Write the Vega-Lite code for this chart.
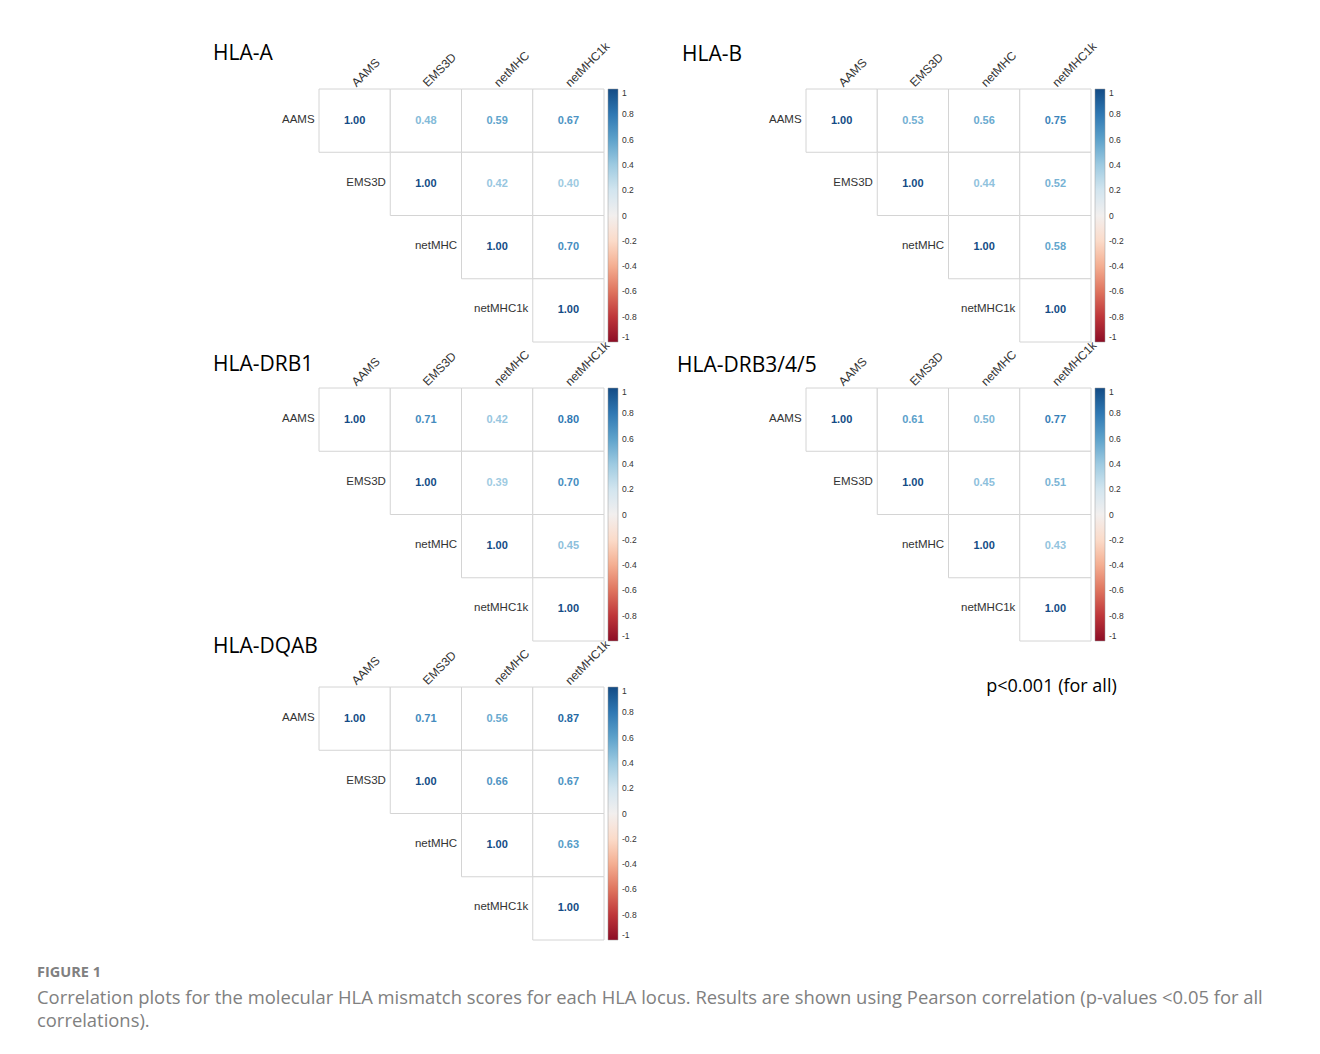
{
  "$schema": "https://vega.github.io/schema/vega-lite/v6.json",
  "background": "white",
  "padding": {"left": 37, "top": 39, "right": 5, "bottom": 5},
  "autosize": {"type": "pad"},
  "config": {
    "view": {"stroke": null},
    "font": "Liberation Sans",
    "legend": {"gradientVerticalMaxLength": 253, "gradientVerticalMinLength": 253}
  },
  "resolve": {"scale": {"color": "independent"}, "legend": {"color": "independent"}},
  "datasets": {
    "corr": [
      {"locus": "HLA-A", "row": "AAMS", "col": "AAMS", "r": 1.00},
      {"locus": "HLA-A", "row": "AAMS", "col": "EMS3D", "r": 0.48},
      {"locus": "HLA-A", "row": "AAMS", "col": "netMHC", "r": 0.59},
      {"locus": "HLA-A", "row": "AAMS", "col": "netMHC1k", "r": 0.67},
      {"locus": "HLA-A", "row": "EMS3D", "col": "EMS3D", "r": 1.00},
      {"locus": "HLA-A", "row": "EMS3D", "col": "netMHC", "r": 0.42},
      {"locus": "HLA-A", "row": "EMS3D", "col": "netMHC1k", "r": 0.40},
      {"locus": "HLA-A", "row": "netMHC", "col": "netMHC", "r": 1.00},
      {"locus": "HLA-A", "row": "netMHC", "col": "netMHC1k", "r": 0.70},
      {"locus": "HLA-A", "row": "netMHC1k", "col": "netMHC1k", "r": 1.00},
      {"locus": "HLA-B", "row": "AAMS", "col": "AAMS", "r": 1.00},
      {"locus": "HLA-B", "row": "AAMS", "col": "EMS3D", "r": 0.53},
      {"locus": "HLA-B", "row": "AAMS", "col": "netMHC", "r": 0.56},
      {"locus": "HLA-B", "row": "AAMS", "col": "netMHC1k", "r": 0.75},
      {"locus": "HLA-B", "row": "EMS3D", "col": "EMS3D", "r": 1.00},
      {"locus": "HLA-B", "row": "EMS3D", "col": "netMHC", "r": 0.44},
      {"locus": "HLA-B", "row": "EMS3D", "col": "netMHC1k", "r": 0.52},
      {"locus": "HLA-B", "row": "netMHC", "col": "netMHC", "r": 1.00},
      {"locus": "HLA-B", "row": "netMHC", "col": "netMHC1k", "r": 0.58},
      {"locus": "HLA-B", "row": "netMHC1k", "col": "netMHC1k", "r": 1.00},
      {"locus": "HLA-DRB1", "row": "AAMS", "col": "AAMS", "r": 1.00},
      {"locus": "HLA-DRB1", "row": "AAMS", "col": "EMS3D", "r": 0.71},
      {"locus": "HLA-DRB1", "row": "AAMS", "col": "netMHC", "r": 0.42},
      {"locus": "HLA-DRB1", "row": "AAMS", "col": "netMHC1k", "r": 0.80},
      {"locus": "HLA-DRB1", "row": "EMS3D", "col": "EMS3D", "r": 1.00},
      {"locus": "HLA-DRB1", "row": "EMS3D", "col": "netMHC", "r": 0.39},
      {"locus": "HLA-DRB1", "row": "EMS3D", "col": "netMHC1k", "r": 0.70},
      {"locus": "HLA-DRB1", "row": "netMHC", "col": "netMHC", "r": 1.00},
      {"locus": "HLA-DRB1", "row": "netMHC", "col": "netMHC1k", "r": 0.45},
      {"locus": "HLA-DRB1", "row": "netMHC1k", "col": "netMHC1k", "r": 1.00},
      {"locus": "HLA-DRB3/4/5", "row": "AAMS", "col": "AAMS", "r": 1.00},
      {"locus": "HLA-DRB3/4/5", "row": "AAMS", "col": "EMS3D", "r": 0.61},
      {"locus": "HLA-DRB3/4/5", "row": "AAMS", "col": "netMHC", "r": 0.50},
      {"locus": "HLA-DRB3/4/5", "row": "AAMS", "col": "netMHC1k", "r": 0.77},
      {"locus": "HLA-DRB3/4/5", "row": "EMS3D", "col": "EMS3D", "r": 1.00},
      {"locus": "HLA-DRB3/4/5", "row": "EMS3D", "col": "netMHC", "r": 0.45},
      {"locus": "HLA-DRB3/4/5", "row": "EMS3D", "col": "netMHC1k", "r": 0.51},
      {"locus": "HLA-DRB3/4/5", "row": "netMHC", "col": "netMHC", "r": 1.00},
      {"locus": "HLA-DRB3/4/5", "row": "netMHC", "col": "netMHC1k", "r": 0.43},
      {"locus": "HLA-DRB3/4/5", "row": "netMHC1k", "col": "netMHC1k", "r": 1.00},
      {"locus": "HLA-DQAB", "row": "AAMS", "col": "AAMS", "r": 1.00},
      {"locus": "HLA-DQAB", "row": "AAMS", "col": "EMS3D", "r": 0.71},
      {"locus": "HLA-DQAB", "row": "AAMS", "col": "netMHC", "r": 0.56},
      {"locus": "HLA-DQAB", "row": "AAMS", "col": "netMHC1k", "r": 0.87},
      {"locus": "HLA-DQAB", "row": "EMS3D", "col": "EMS3D", "r": 1.00},
      {"locus": "HLA-DQAB", "row": "EMS3D", "col": "netMHC", "r": 0.66},
      {"locus": "HLA-DQAB", "row": "EMS3D", "col": "netMHC1k", "r": 0.67},
      {"locus": "HLA-DQAB", "row": "netMHC", "col": "netMHC", "r": 1.00},
      {"locus": "HLA-DQAB", "row": "netMHC", "col": "netMHC1k", "r": 0.63},
      {"locus": "HLA-DQAB", "row": "netMHC1k", "col": "netMHC1k", "r": 1.00}
    ],
    "note": [{"label": "p<0.001 (for all)"}]
  },
  "title": {
    "text": "FIGURE 1",
    "subtitle": ["Correlation plots for the molecular HLA mismatch scores for each HLA locus. Results are shown using Pearson correlation (p-values <0.05 for all", "correlations)."],
    "orient": "bottom",
    "anchor": "start",
    "frame": "group",
    "dx": -282,
    "offset": 25,
    "font": "Open Sans",
    "fontSize": 14.5,
    "fontWeight": "bold",
    "color": "#808080",
    "subtitleFont": "Open Sans",
    "subtitleFontSize": 18.4,
    "subtitleColor": "#808080",
    "subtitleLineHeight": 23.5,
    "subtitlePadding": 8
  },
  "columns": 2,
  "spacing": {"row": 46, "column": 202},
  "bounds": "flush",
  "concat": [
    {
      "width": 285, "height": 253,
      "title": {"text": "HLA-A", "anchor": "start", "frame": "group", "dx": -106, "offset": -24, "font": "Open Sans", "fontSize": 21, "fontWeight": "normal", "color": "black"},
      "data": {"name": "corr"},
      "transform": [{"filter": "datum.locus === 'HLA-A'"}],
      "encoding": {
        "x": {"field": "col", "type": "nominal", "sort": ["AAMS", "EMS3D", "netMHC", "netMHC1k"], "scale": {"type": "band", "paddingInner": 0, "paddingOuter": 0}, "axis": {"orient": "top", "title": null, "labelAngle": -45, "labelAlign": "left", "labelBaseline": "bottom", "ticks": false, "domain": false, "labelPadding": 0, "labelOffset": 4, "labelFontSize": 12, "labelColor": "#333333"}},
        "y": {"field": "row", "type": "nominal", "sort": ["AAMS", "EMS3D", "netMHC", "netMHC1k"], "scale": {"type": "band", "paddingInner": 0, "paddingOuter": 0}, "axis": null}
      },
      "layer": [
        {"mark": {"type": "rect", "fill": "white", "stroke": "#d4d4d4", "strokeWidth": 1}},
        {"mark": {"type": "text", "fontWeight": "bold", "fontSize": 11},
         "encoding": {"text": {"field": "r", "type": "quantitative", "format": ".2f"},
           "color": {"field": "r", "type": "quantitative", "scale": {"scheme": "redblue", "domain": [-1, 1]},
             "legend": {"title": null, "direction": "vertical", "orient": "right", "offset": 4, "padding": 0, "gradientLength": 253, "gradientThickness": 10, "values": [1, 0.8, 0.6, 0.4, 0.2, 0, -0.2, -0.4, -0.6, -0.8, -1], "labelExpr": "datum.value < 0 ? '-' + format(-datum.value, '~g') : format(datum.value, '~g')", "labelFontSize": 8.5, "labelColor": "#333333", "labelOverlap": false, "gradientStrokeColor": "#999999", "gradientStrokeWidth": 0.5, "labelOffset": 4}}}},
        {"transform": [{"filter": "datum.row === datum.col"}],
         "mark": {"type": "text", "align": "right", "dx": -40, "dy": -1, "fontSize": 11.5, "color": "#333333"},
         "encoding": {"text": {"field": "row"}}}
      ]
    },
    {
      "width": 285, "height": 253,
      "title": {"text": "HLA-B", "anchor": "start", "frame": "group", "dx": -124, "offset": -25, "font": "Open Sans", "fontSize": 21, "fontWeight": "normal", "color": "black"},
      "data": {"name": "corr"},
      "transform": [{"filter": "datum.locus === 'HLA-B'"}],
      "encoding": {
        "x": {"field": "col", "type": "nominal", "sort": ["AAMS", "EMS3D", "netMHC", "netMHC1k"], "scale": {"type": "band", "paddingInner": 0, "paddingOuter": 0}, "axis": {"orient": "top", "title": null, "labelAngle": -45, "labelAlign": "left", "labelBaseline": "bottom", "ticks": false, "domain": false, "labelPadding": 0, "labelOffset": 4, "labelFontSize": 12, "labelColor": "#333333"}},
        "y": {"field": "row", "type": "nominal", "sort": ["AAMS", "EMS3D", "netMHC", "netMHC1k"], "scale": {"type": "band", "paddingInner": 0, "paddingOuter": 0}, "axis": null}
      },
      "layer": [
        {"mark": {"type": "rect", "fill": "white", "stroke": "#d4d4d4", "strokeWidth": 1}},
        {"mark": {"type": "text", "fontWeight": "bold", "fontSize": 11},
         "encoding": {"text": {"field": "r", "type": "quantitative", "format": ".2f"},
           "color": {"field": "r", "type": "quantitative", "scale": {"scheme": "redblue", "domain": [-1, 1]},
             "legend": {"title": null, "direction": "vertical", "orient": "right", "offset": 4, "padding": 0, "gradientLength": 253, "gradientThickness": 10, "values": [1, 0.8, 0.6, 0.4, 0.2, 0, -0.2, -0.4, -0.6, -0.8, -1], "labelExpr": "datum.value < 0 ? '-' + format(-datum.value, '~g') : format(datum.value, '~g')", "labelFontSize": 8.5, "labelColor": "#333333", "labelOverlap": false, "gradientStrokeColor": "#999999", "gradientStrokeWidth": 0.5, "labelOffset": 4}}}},
        {"transform": [{"filter": "datum.row === datum.col"}],
         "mark": {"type": "text", "align": "right", "dx": -40, "dy": -1, "fontSize": 11.5, "color": "#333333"},
         "encoding": {"text": {"field": "row"}}}
      ]
    },
    {
      "width": 285, "height": 253,
      "title": {"text": "HLA-DRB1", "anchor": "start", "frame": "group", "dx": -106, "offset": -36, "font": "Open Sans", "fontSize": 21, "fontWeight": "normal", "color": "black"},
      "data": {"name": "corr"},
      "transform": [{"filter": "datum.locus === 'HLA-DRB1'"}],
      "encoding": {
        "x": {"field": "col", "type": "nominal", "sort": ["AAMS", "EMS3D", "netMHC", "netMHC1k"], "scale": {"type": "band", "paddingInner": 0, "paddingOuter": 0}, "axis": {"orient": "top", "title": null, "labelAngle": -45, "labelAlign": "left", "labelBaseline": "bottom", "ticks": false, "domain": false, "labelPadding": 0, "labelOffset": 4, "labelFontSize": 12, "labelColor": "#333333"}},
        "y": {"field": "row", "type": "nominal", "sort": ["AAMS", "EMS3D", "netMHC", "netMHC1k"], "scale": {"type": "band", "paddingInner": 0, "paddingOuter": 0}, "axis": null}
      },
      "layer": [
        {"mark": {"type": "rect", "fill": "white", "stroke": "#d4d4d4", "strokeWidth": 1}},
        {"mark": {"type": "text", "fontWeight": "bold", "fontSize": 11},
         "encoding": {"text": {"field": "r", "type": "quantitative", "format": ".2f"},
           "color": {"field": "r", "type": "quantitative", "scale": {"scheme": "redblue", "domain": [-1, 1]},
             "legend": {"title": null, "direction": "vertical", "orient": "right", "offset": 4, "padding": 0, "gradientLength": 253, "gradientThickness": 10, "values": [1, 0.8, 0.6, 0.4, 0.2, 0, -0.2, -0.4, -0.6, -0.8, -1], "labelExpr": "datum.value < 0 ? '-' + format(-datum.value, '~g') : format(datum.value, '~g')", "labelFontSize": 8.5, "labelColor": "#333333", "labelOverlap": false, "gradientStrokeColor": "#999999", "gradientStrokeWidth": 0.5, "labelOffset": 4}}}},
        {"transform": [{"filter": "datum.row === datum.col"}],
         "mark": {"type": "text", "align": "right", "dx": -40, "dy": -1, "fontSize": 11.5, "color": "#333333"},
         "encoding": {"text": {"field": "row"}}}
      ]
    },
    {
      "width": 285, "height": 253,
      "title": {"text": "HLA-DRB3/4/5", "anchor": "start", "frame": "group", "dx": -129, "offset": -37, "font": "Open Sans", "fontSize": 21, "fontWeight": "normal", "color": "black"},
      "data": {"name": "corr"},
      "transform": [{"filter": "datum.locus === 'HLA-DRB3/4/5'"}],
      "encoding": {
        "x": {"field": "col", "type": "nominal", "sort": ["AAMS", "EMS3D", "netMHC", "netMHC1k"], "scale": {"type": "band", "paddingInner": 0, "paddingOuter": 0}, "axis": {"orient": "top", "title": null, "labelAngle": -45, "labelAlign": "left", "labelBaseline": "bottom", "ticks": false, "domain": false, "labelPadding": 0, "labelOffset": 4, "labelFontSize": 12, "labelColor": "#333333"}},
        "y": {"field": "row", "type": "nominal", "sort": ["AAMS", "EMS3D", "netMHC", "netMHC1k"], "scale": {"type": "band", "paddingInner": 0, "paddingOuter": 0}, "axis": null}
      },
      "layer": [
        {"mark": {"type": "rect", "fill": "white", "stroke": "#d4d4d4", "strokeWidth": 1}},
        {"mark": {"type": "text", "fontWeight": "bold", "fontSize": 11},
         "encoding": {"text": {"field": "r", "type": "quantitative", "format": ".2f"},
           "color": {"field": "r", "type": "quantitative", "scale": {"scheme": "redblue", "domain": [-1, 1]},
             "legend": {"title": null, "direction": "vertical", "orient": "right", "offset": 4, "padding": 0, "gradientLength": 253, "gradientThickness": 10, "values": [1, 0.8, 0.6, 0.4, 0.2, 0, -0.2, -0.4, -0.6, -0.8, -1], "labelExpr": "datum.value < 0 ? '-' + format(-datum.value, '~g') : format(datum.value, '~g')", "labelFontSize": 8.5, "labelColor": "#333333", "labelOverlap": false, "gradientStrokeColor": "#999999", "gradientStrokeWidth": 0.5, "labelOffset": 4}}}},
        {"transform": [{"filter": "datum.row === datum.col"}],
         "mark": {"type": "text", "align": "right", "dx": -40, "dy": -1, "fontSize": 11.5, "color": "#333333"},
         "encoding": {"text": {"field": "row"}}}
      ]
    },
    {
      "width": 285, "height": 253,
      "title": {"text": "HLA-DQAB", "anchor": "start", "frame": "group", "dx": -106, "offset": -19, "font": "Open Sans", "fontSize": 21, "fontWeight": "normal", "color": "black"},
      "data": {"name": "corr"},
      "transform": [{"filter": "datum.locus === 'HLA-DQAB'"}],
      "encoding": {
        "x": {"field": "col", "type": "nominal", "sort": ["AAMS", "EMS3D", "netMHC", "netMHC1k"], "scale": {"type": "band", "paddingInner": 0, "paddingOuter": 0}, "axis": {"orient": "top", "title": null, "labelAngle": -45, "labelAlign": "left", "labelBaseline": "bottom", "ticks": false, "domain": false, "labelPadding": 0, "labelOffset": 4, "labelFontSize": 12, "labelColor": "#333333"}},
        "y": {"field": "row", "type": "nominal", "sort": ["AAMS", "EMS3D", "netMHC", "netMHC1k"], "scale": {"type": "band", "paddingInner": 0, "paddingOuter": 0}, "axis": null}
      },
      "layer": [
        {"mark": {"type": "rect", "fill": "white", "stroke": "#d4d4d4", "strokeWidth": 1}},
        {"mark": {"type": "text", "fontWeight": "bold", "fontSize": 11},
         "encoding": {"text": {"field": "r", "type": "quantitative", "format": ".2f"},
           "color": {"field": "r", "type": "quantitative", "scale": {"scheme": "redblue", "domain": [-1, 1]},
             "legend": {"title": null, "direction": "vertical", "orient": "right", "offset": 4, "padding": 0, "gradientLength": 253, "gradientThickness": 10, "values": [1, 0.8, 0.6, 0.4, 0.2, 0, -0.2, -0.4, -0.6, -0.8, -1], "labelExpr": "datum.value < 0 ? '-' + format(-datum.value, '~g') : format(datum.value, '~g')", "labelFontSize": 8.5, "labelColor": "#333333", "labelOverlap": false, "gradientStrokeColor": "#999999", "gradientStrokeWidth": 0.5, "labelOffset": 4}}}},
        {"transform": [{"filter": "datum.row === datum.col"}],
         "mark": {"type": "text", "align": "right", "dx": -40, "dy": -1, "fontSize": 11.5, "color": "#333333"},
         "encoding": {"text": {"field": "row"}}}
      ]
    },
    {
      "width": 285, "height": 253,
      "data": {"name": "note"},
      "mark": {"type": "text", "align": "center", "baseline": "middle", "font": "Open Sans", "fontSize": 18, "color": "black", "dx": 103, "dy": -127},
      "encoding": {"text": {"field": "label"}}
    }
  ]
}
